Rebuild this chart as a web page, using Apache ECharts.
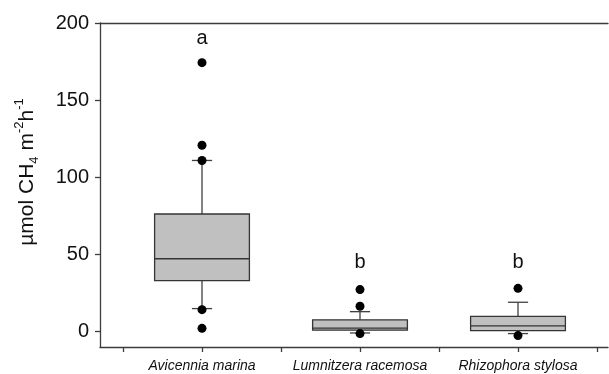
<!DOCTYPE html>
<html>
<head>
<meta charset="utf-8">
<script src="https://cdn.jsdelivr.net/npm/echarts@6/dist/echarts.min.js"></script>
<style>
  html, body { margin: 0; padding: 0; background: #fff; }
  #main { width: 609px; height: 374px; }
</style>
</head>
<body>
<div id="main"></div>
<script>
// species on the x axis
const categories = ['Avicennia marina', 'Lumnitzera racemosa', 'Rhizophora stylosa'];
// [lower whisker, Q1, median, Q3, upper whisker]
const boxStats = [
  [14.9, 33.0, 47.2, 76.2, 110.9],
  [-0.9, 0.9, 2.2, 7.6, 12.9],
  [-1.3, 0.6, 3.7, 9.9, 19.0]
];
// points beyond the whiskers
const outliers = [
  [174.3, 120.8, 110.9, 14.2, 2.1],
  [27.2, 16.4, -1.3],
  [28.0, -2.6]
];
// significance letters and where they sit
const letters = ['a', 'b', 'b'];
const letterY = [190, 45, 45];
const yTicks = [0, 50, 100, 150, 200];
const xTicks = [0.5, 1, 1.5, 2, 2.5, 3, 3.5];

const font = 'Liberation Sans, Arial, sans-serif';
const axisColor = '#3c3c3c';

const boxData = boxStats.map((s, i) => [i + 1].concat(s));
const outlierData = [];
outliers.forEach((arr, i) => arr.forEach(v => outlierData.push([i + 1, v])));
const letterData = letters.map((l, i) => [i + 1, letterY[i], l]);

function renderBox(params, api) {
  const x = api.value(0);
  const band = api.size([1, 0])[0];
  const half = band * 0.3;
  const cap = band * 0.064;
  const pMin = api.coord([x, api.value(1)]);
  const pQ1 = api.coord([x, api.value(2)]);
  const pMed = api.coord([x, api.value(3)]);
  const pQ3 = api.coord([x, api.value(4)]);
  const pMax = api.coord([x, api.value(5)]);
  const cx = pMed[0];
  const line = { stroke: '#404040', lineWidth: 1.3 };
  return {
    type: 'group',
    children: [
      { type: 'line', shape: { x1: cx, y1: pQ3[1], x2: cx, y2: pMax[1] }, style: line },
      { type: 'line', shape: { x1: cx, y1: pQ1[1], x2: cx, y2: pMin[1] }, style: line },
      { type: 'line', shape: { x1: cx - cap, y1: pMax[1], x2: cx + cap, y2: pMax[1] }, style: line },
      { type: 'line', shape: { x1: cx - cap, y1: pMin[1], x2: cx + cap, y2: pMin[1] }, style: line },
      {
        type: 'rect',
        shape: { x: cx - half, y: pQ3[1], width: half * 2, height: pQ1[1] - pQ3[1] },
        style: { fill: '#c0c0c0', stroke: '#353535', lineWidth: 1.3 }
      },
      { type: 'line', shape: { x1: cx - half, y1: pMed[1], x2: cx + half, y2: pMed[1] }, style: { stroke: '#353535', lineWidth: 1.3 } }
    ]
  };
}

const chart = echarts.init(document.getElementById('main'));
chart.setOption({
  animation: false,
  grid: { left: 100, right: 1, top: 23, bottom: 27 },
  xAxis: [
    {
      type: 'value',
      min: 0.3544,
      max: 3.5696,
      position: 'bottom',
      axisLine: { onZero: false, lineStyle: { color: axisColor, width: 1.3 } },
      axisTick: { customValues: xTicks, length: 5, lineStyle: { color: axisColor, width: 1.3 } },
      axisLabel: {
        customValues: [1, 2, 3],
        formatter: v => categories[Math.round(v) - 1],
        fontStyle: 'italic',
        fontSize: 14,
        fontFamily: font,
        color: '#111',
        margin: 12
      },
      splitLine: { show: false }
    },
    {
      type: 'value',
      min: 0.3544,
      max: 3.5696,
      position: 'top',
      axisLine: { onZero: false, lineStyle: { color: axisColor, width: 1.3 } },
      axisTick: { show: false },
      axisLabel: { show: false },
      splitLine: { show: false }
    }
  ],
  yAxis: {
    type: 'value',
    min: -10,
    max: 200,
    axisLine: { show: true, onZero: false, lineStyle: { color: axisColor, width: 1.3 } },
    axisTick: { show: true, customValues: yTicks, length: 5, lineStyle: { color: axisColor, width: 1.3 } },
    axisLabel: { customValues: yTicks, fontSize: 20, fontFamily: font, color: '#111', margin: 11 },
    splitLine: { show: false },
    name: '{n|µmol CH}{sub|4}{n| m}{sup|-2}{n|h}{sup|-1}',
    nameLocation: 'middle',
    nameRotate: 90,
    nameGap: 59,
    nameTextStyle: {
      padding: [0, 0, 0, 26],
      rich: {
        n: { fontSize: 21, fontFamily: font, color: '#111', lineHeight: 28 },
        sub: { fontSize: 13, fontFamily: font, color: '#111', verticalAlign: 'bottom', lineHeight: 28 },
        sup: { fontSize: 13, fontFamily: font, color: '#111', verticalAlign: 'top', lineHeight: 28 }
      }
    }
  },
  series: [
    {
      type: 'custom',
      renderItem: renderBox,
      encode: { x: 0, y: [1, 2, 3, 4, 5] },
      data: boxData
    },
    {
      type: 'scatter',
      symbol: 'circle',
      symbolSize: 9,
      itemStyle: { color: '#000', opacity: 1 },
      data: outlierData,
      z: 5
    },
    {
      type: 'scatter',
      symbolSize: 0,
      data: letterData,
      itemStyle: { opacity: 1 },
      label: {
        show: true,
        position: 'inside',
        formatter: p => p.data[2],
        fontSize: 20,
        fontFamily: font,
        color: '#111'
      }
    }
  ]
});
</script>
</body>
</html>
